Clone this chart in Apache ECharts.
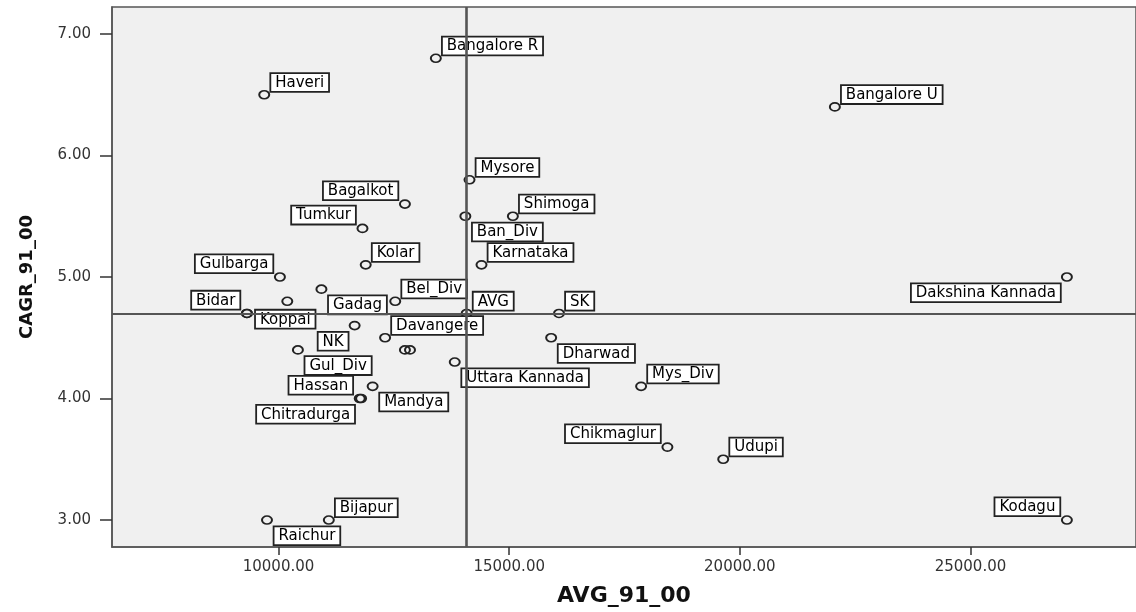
<!DOCTYPE html>
<html>
<head>
<meta charset="utf-8">
<title>CAGR_91_00 vs AVG_91_00</title>
<script src="https://cdn.jsdelivr.net/npm/echarts@6/dist/echarts.min.js"></script>
<style>
  html, body { margin: 0; padding: 0; background: #fff; }
</style>
</head>
<body>
<!-- chart container -->
<div id="main" style="width: 1136px;height: 612px;"></div>
<script>
// district / division names ('' = point without label)
var names = ['Bangalore R', 'Haveri', 'Bangalore U', 'Mysore', 'Bagalkot', 'Tumkur', 'Ban_Div', 'Shimoga',
  'Kolar', 'Karnataka', 'Gulbarga', 'Dakshina Kannada', 'Gadag', 'Bel_Div', '', 'Bidar', 'Koppal', 'AVG', 'SK',
  'NK', 'Davangere', 'Dharwad', 'Gul_Div', '', '', 'Uttara Kannada', 'Mys_Div', 'Mandya', 'Hassan', 'Chitradurga',
  'Chikmaglur', 'Udupi', 'Kodagu', 'Bijapur', 'Raichur']
// AVG_91_00
var avgValues = [13410, 9690, 22060, 14140, 12740, 11820, 14050, 15080,
  11890, 14400, 10030, 27090, 10930, 12530, 10190, 9315, 9315, 14078, 16080,
  11650, 12310, 15910, 10420, 12740, 12850, 13820, 17860, 12040, 11760, 11790,
  18430, 19640, 27090, 11090, 9750]
// CAGR_91_00
var cagrValues = [6.8, 6.5, 6.4, 5.8, 5.6, 5.4, 5.5, 5.5,
  5.1, 5.1, 5.0, 5.0, 4.9, 4.8, 4.8, 4.7, 4.7, 4.7, 4.7,
  4.6, 4.5, 4.5, 4.4, 4.4, 4.4, 4.3, 4.1, 4.1, 4.0, 4.0,
  3.6, 3.5, 3.0, 3.0, 3.0]
// reference lines (state average)
var refX = 14078
var refY = 4.7
// tick labels
var xTicks = [10000, 15000, 20000, 25000]
var yTicks = [3, 4, 5, 6, 7]

// where each label box sits around its point
var labelSide = {
  'Bagalkot': 'ul', 'Tumkur': 'ul', 'Gulbarga': 'ul', 'Bidar': 'ul', 'Hassan': 'ul', 'Chikmaglur': 'ul', 'Kodagu': 'ul',
  'Ban_Div': 'lr', 'Gadag': 'lr', 'Dharwad': 'lr', 'Gul_Div': 'lr', 'Uttara Kannada': 'lr', 'Mandya': 'lr', 'Raichur': 'lr',
  'Dakshina Kannada': 'll', 'NK': 'll', 'Chitradurga': 'll',
  'Koppal': 'r'
}
var sidePos = {
  ur: { position: [13, 1], align: 'left', verticalAlign: 'bottom' },
  ul: { position: [-1.5, 0], align: 'right', verticalAlign: 'bottom' },
  lr: { position: [13.5, 12], align: 'left', verticalAlign: 'top' },
  ll: { position: [-1, 12], align: 'right', verticalAlign: 'top' },
  r: { position: [15, 2], align: 'left', verticalAlign: 'top' }
}

var font = 'DejaVu Sans'
var points = []
for (var i = 0; i < names.length; i++) {
  var item = { name: names[i], value: [avgValues[i], cagrValues[i]] }
  if (names[i]) {
    var p = sidePos[labelSide[names[i]] || 'ur']
    item.label = {
      show: true,
      position: p.position,
      align: p.align,
      verticalAlign: p.verticalAlign
    }
  }
  points.push(item)
}

var myChart = echarts.init(document.getElementById('main'))
var option = {
  animation: false,
  backgroundColor: '#fff',
  grid: {
    left: 112,
    top: 7,
    width: 1030,
    height: 542,
    show: true,
    backgroundColor: '#f0f0f0',
    borderColor: '#555',
    borderWidth: 1.5
  },
  xAxis: {
    type: 'value',
    min: 6390,
    max: 28588,
    name: 'AVG_91_00',
    nameLocation: 'middle',
    nameGap: 38,
    nameTextStyle: { fontFamily: font, fontSize: 22, fontWeight: 'bold', color: '#111' },
    axisLine: { show: true, lineStyle: { color: '#555', width: 1.5 } },
    axisTick: { show: true, length: 8, customValues: xTicks, lineStyle: { color: '#333', width: 1.5 } },
    axisLabel: {
      customValues: xTicks,
      margin: 13,
      fontFamily: font,
      fontSize: 15,
      color: '#333',
      formatter: function (v) { return v.toFixed(2) }
    },
    splitLine: { show: false }
  },
  yAxis: {
    type: 'value',
    min: 2.778,
    max: 7.222,
    name: 'CAGR_91_00',
    nameLocation: 'middle',
    nameGap: 76,
    nameTextStyle: { fontFamily: font, fontSize: 18, fontWeight: 'bold', color: '#111' },
    axisLine: { show: true, lineStyle: { color: '#555', width: 1.5 } },
    axisTick: { show: true, length: 12, customValues: yTicks, lineStyle: { color: '#333', width: 1.5 } },
    axisLabel: {
      customValues: yTicks,
      margin: 21,
      fontFamily: font,
      fontSize: 15,
      color: '#333',
      formatter: function (v) { return v.toFixed(2) }
    },
    splitLine: { show: false }
  },
  series: [
    {
      type: 'scatter',
      z: 2,
      symbol: 'circle',
      symbolSize: [10, 8],
      itemStyle: { color: 'rgba(0,0,0,0)', borderColor: '#222', borderWidth: 1.8, opacity: 1 },
      label: {
        formatter: '{b}',
        fontFamily: font,
        fontSize: 15,
        lineHeight: 14,
        color: '#000',
        backgroundColor: '#fff',
        borderColor: '#222',
        borderWidth: 1.8,
        padding: [2, 4, 1, 4]
      },
      emphasis: { disabled: true },
      data: points
    },
    {
      // average lines, drawn over the labels like in the original
      type: 'scatter',
      z: 5,
      data: [],
      markLine: {
        silent: true,
        symbol: 'none',
        label: { show: false },
        data: [
          { xAxis: refX, lineStyle: { color: '#555', width: 2.6, type: 'solid', opacity: 1 } },
          { yAxis: refY, lineStyle: { color: '#555', width: 2, type: 'solid', opacity: 1 } }
        ]
      }
    }
  ]
}
myChart.setOption(option)
</script>
</body>
</html>
